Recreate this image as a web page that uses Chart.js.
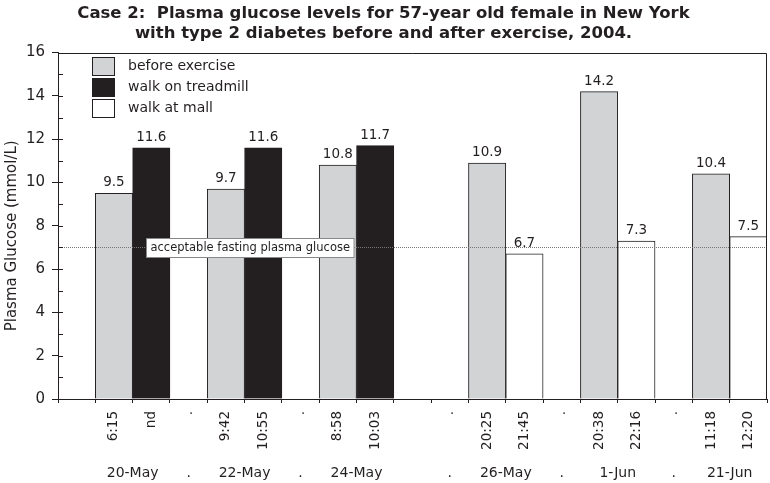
<!DOCTYPE html>
<html>
<head>
<meta charset="utf-8">
<script src="https://cdn.jsdelivr.net/npm/chart.js@4"></script>
<style>
html,body{margin:0;padding:0;background:#fff;}
#wrap{width:770px;height:483px;}
</style>
</head>
<body>
<div id="wrap"><canvas id="c" width="770" height="483"></canvas></div>
<script>
const titleLines = ["Case 2:  Plasma glucose levels for 57-year old female in New York", "with type 2 diabetes before and after exercise, 2004."];
const yTitle = "Plasma Glucose (mmol/L)";
const categories = ["", "6:15", "nd", ".", "9:42", "10:55", ".", "8:58", "10:03", "", ".", "20:25", "21:45", ".", "20:38", "22:16", ".", "11:18", "12:20"];
const dateRow = ["", "", "", "", "20-May", "", "", ".", "", "", "22-May", "", "", ".", "", "", "24-May", "", "", "", "", ".", "", "", "26-May", "", "", ".", "", "", "1-Jun", "", "", ".", "", "", "21-Jun", "", ""];
const seriesNames = ["before exercise", "walk on treadmill", "walk at mall"];
const beforeExercise = [null, 9.5, null, null, 9.7, null, null, 10.8, null, null, null, 10.9, null, null, 14.2, null, null, 10.4, null];
const walkTreadmill = [null, null, 11.6, null, null, 11.6, null, null, 11.7, null, null, null, null, null, null, null, null, null, null];
const walkMall = [null, null, null, null, null, null, null, null, null, null, null, null, 6.7, null, null, 7.3, null, null, 7.5];
const refValue = 7;
const refLabel = "acceptable fasting plasma glucose";
const yMin = 0, yMax = 16;

const FONT = "'DejaVu Sans', Verdana, sans-serif";
const INK = '#231f20';

const fmt = v => v.toFixed(1);

const barCommon = { grouped: false, barPercentage: 1, categoryPercentage: 1, borderWidth: 1, borderColor: INK, borderSkipped: 'bottom' };

const valueLabels = {
  id: 'valueLabels',
  afterDatasetsDraw(chart) {
    const ctx = chart.ctx;
    ctx.save();
    ctx.font = "13.5px " + FONT;
    ctx.fillStyle = INK;
    ctx.textAlign = 'center';
    ctx.textBaseline = 'alphabetic';
    chart.data.datasets.forEach((ds, i) => {
      const meta = chart.getDatasetMeta(i);
      meta.data.forEach((el, j) => {
        const v = ds.data[j];
        if (v === null || v === undefined) return;
        ctx.fillText(fmt(v), el.x, el.y - 7);
      });
    });
    ctx.restore();
  }
};

const refLine = {
  id: 'refLine',
  afterDatasetsDraw(chart) {
    const ctx = chart.ctx, a = chart.chartArea;
    const y = Math.round(chart.scales.y.getPixelForValue(refValue)) + 0.5;
    ctx.save();
    ctx.strokeStyle = '#777';
    ctx.lineWidth = 1;
    ctx.setLineDash([1, 1]);
    ctx.beginPath(); ctx.moveTo(a.left, y); ctx.lineTo(a.right, y); ctx.stroke();
    ctx.setLineDash([]);
    ctx.font = "11.5px " + FONT;
    const w = ctx.measureText(refLabel).width + 8;
    const x0 = Math.round(a.left + 88) + 0.5, h = 19;
    ctx.fillStyle = '#fff';
    ctx.fillRect(x0, y - 9, w, h);
    ctx.strokeStyle = '#888';
    ctx.strokeRect(x0, y - 9, w, h);
    ctx.fillStyle = INK;
    ctx.textBaseline = 'middle';
    ctx.textAlign = 'left';
    ctx.fillText(refLabel, x0 + 4, y + 1);
    ctx.restore();
  }
};

const frame = {
  id: 'frame',
  afterDraw(chart) {
    const ctx = chart.ctx, a = chart.chartArea;
    ctx.save();
    ctx.strokeStyle = INK; ctx.lineWidth = 1;
    ctx.beginPath();
    ctx.moveTo(a.left, Math.round(a.top) + 0.5);
    ctx.lineTo(Math.round(a.right) - 0.5, Math.round(a.top) + 0.5);
    ctx.lineTo(Math.round(a.right) - 0.5, a.bottom);
    ctx.stroke();
    const ys = chart.scales.y;
    ys.ticks.forEach(t => {
      const py = Math.round(ys.getPixelForValue(t.value)) + 0.5;
      ctx.beginPath(); ctx.moveTo(a.left, py); ctx.lineTo(a.left + 5, py); ctx.stroke();
    });
    ctx.font = "15px " + FONT;
    ctx.fillStyle = INK;
    ctx.textAlign = 'center';
    ctx.textBaseline = 'middle';
    ctx.translate(12, (a.top + a.bottom) / 2 + 10);
    ctx.rotate(-Math.PI / 2);
    ctx.fillText(yTitle, 0, 0);
    ctx.restore();
  }
};

const boxLegend = {
  id: 'boxLegend',
  afterDraw(chart) {
    const ctx = chart.ctx, a = chart.chartArea;
    ctx.save();
    ctx.font = "14px " + FONT;
    ctx.textBaseline = 'middle';
    ctx.textAlign = 'left';
    chart.data.datasets.forEach((ds, i) => {
      const bx = Math.round(a.left + 34) + 0.5, by = Math.round(a.top + 4 + i * 21) + 0.5;
      ctx.fillStyle = ds.backgroundColor;
      ctx.fillRect(bx, by, 22, 18);
      ctx.strokeStyle = INK; ctx.lineWidth = 1;
      ctx.strokeRect(bx, by, 22, 18);
      ctx.fillStyle = INK;
      ctx.fillText(ds.label, a.left + 70, by + 9);
    });
    ctx.restore();
  }
};

new Chart(document.getElementById('c'), {
  type: 'bar',
  data: {
    labels: categories,
    datasets: [
      Object.assign({ label: seriesNames[0], data: beforeExercise, backgroundColor: '#d1d3d4' }, barCommon),
      Object.assign({ label: seriesNames[1], data: walkTreadmill, backgroundColor: INK }, barCommon),
      Object.assign({ label: seriesNames[2], data: walkMall, backgroundColor: '#ffffff' }, barCommon)
    ]
  },
  options: {
    responsive: false,
    animation: false,
    devicePixelRatio: 1,
    layout: { padding: { left: 0, right: 3, top: 0, bottom: 0 } },
    plugins: {
      legend: { display: false },
      tooltip: { enabled: false },
      title: {
        display: true,
        text: titleLines,
        color: INK,
        font: { family: FONT, size: 16.5, weight: 'bold', lineHeight: 1.2 },
        padding: { top: 4, bottom: 9 }
      }
    },
    scales: {
      x: {
        type: 'category',
        position: 'bottom',
        offset: true,
        grid: { display: true, offset: true, drawOnChartArea: false, drawTicks: true, tickLength: 4, color: INK },
        border: { display: true, color: INK },
        ticks: { autoSkip: false, minRotation: 90, maxRotation: 90, color: INK, font: { family: FONT, size: 13.5 }, padding: 8 },
        afterFit(s) { s.height = 58; s.paddingLeft = 0; s.paddingRight = 0; }
      },
      x2: {
        type: 'category',
        position: 'bottom',
        labels: dateRow,
        offset: false,
        grid: { display: false, drawTicks: false },
        border: { display: false },
        ticks: { autoSkip: false, minRotation: 0, maxRotation: 0, color: INK, font: { family: FONT, size: 14 }, padding: 8 },
        afterFit(s) { s.height = 26; s.paddingLeft = 0; s.paddingRight = 0; }
      },
      y: {
        min: yMin, max: yMax,
        grid: { drawOnChartArea: false, drawTicks: true, tickLength: 6, color: INK,
          tickColor: c => (c.tick && c.tick.value % 2 === 0) ? INK : 'rgba(0,0,0,0)' },
        border: { display: true, color: INK },
        ticks: { stepSize: 1, color: INK, font: { family: FONT, size: 15 }, padding: 7,
          callback: v => (v % 2 === 0 ? String(v) : '') },
        afterFit(s) { s.width = 58; }
      }
    }
  },
  plugins: [refLine, valueLabels, frame, boxLegend]
});
</script>
</body>
</html>
